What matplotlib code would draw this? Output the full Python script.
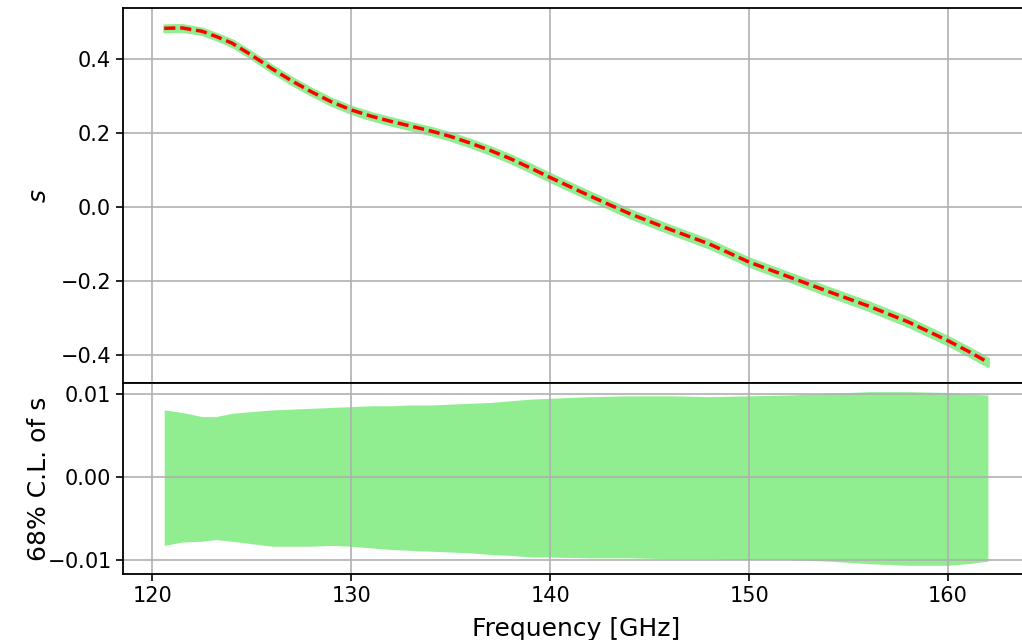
import numpy as np
import matplotlib
matplotlib.use("Agg")
import matplotlib.pyplot as plt

# frequency grid [GHz]
freq = [120.6, 121.5, 122.5, 123.2, 124, 125, 126, 127, 128, 129, 130, 131, 132,
        133, 134, 135, 136, 137, 138, 139, 140, 142, 144, 146, 148, 150, 152,
        154, 156, 158, 160, 161, 162]

# best fit spectral index s
s_best = [0.484, 0.485, 0.476, 0.462, 0.444, 0.411, 0.375, 0.342, 0.312, 0.285,
          0.263, 0.246, 0.232, 0.219, 0.206, 0.191, 0.173, 0.153, 0.131, 0.106,
          0.080, 0.030, -0.018, -0.060, -0.100, -0.149, -0.189, -0.229, -0.268,
          -0.311, -0.362, -0.390, -0.420]

# 68% C.L. upper / lower offsets
cl_hi = [0.0081, 0.0078, 0.0073, 0.0073, 0.0077, 0.0079, 0.0081, 0.0082, 0.0083,
         0.0084, 0.0085, 0.0086, 0.0086, 0.0087, 0.0087, 0.0088, 0.0089, 0.0090,
         0.0092, 0.0094, 0.0095, 0.0097, 0.0098, 0.0098, 0.0097, 0.0098, 0.0099,
         0.0101, 0.0103, 0.0103, 0.0102, 0.0100, 0.0099]
cl_lo = [-0.0082, -0.0078, -0.0077, -0.0075, -0.0077, -0.0080, -0.0083, -0.0083,
         -0.0083, -0.0082, -0.0083, -0.0085, -0.0087, -0.0088, -0.0089, -0.0090,
         -0.0091, -0.0093, -0.0094, -0.0096, -0.0096, -0.0097, -0.0097, -0.0098,
         -0.0098, -0.0099, -0.0099, -0.0101, -0.0104, -0.0106, -0.0106, -0.0104,
         -0.0101]

f = np.array(freq)
s = np.array(s_best)
hi = np.array(cl_hi)
lo = np.array(cl_lo)

fig = plt.figure(figsize=(10.22, 6.4), dpi=100)
ax1 = fig.add_axes([0.1204, 0.4016, 0.8865, 0.5859])
ax2 = fig.add_axes([0.1204, 0.1031, 0.8865, 0.2985], sharex=ax1)

# top: s with its band
ax1.fill_between(f, s + lo, s + hi, facecolor="lightgreen", edgecolor="lightgreen", lw=2.2)
ax1.plot(f, s, color="red", ls="--", lw=2.5, dashes=(3.2, 1.4))
ax1.set_ylabel("$s$", fontsize=18)
ax1.set_yticks([-0.4, -0.2, 0.0, 0.2, 0.4])
ax1.grid(True, color="#b0b0b0", lw=1.2)
ax1.tick_params(axis="x", which="both", bottom=False, labelbottom=False)
ax1.tick_params(axis="y", labelsize=15, width=1.2, length=5)

# bottom: the band itself
ax2.fill_between(f, lo, hi, color="lightgreen", lw=0)
ax2.set_ylabel("68% C.L. of s", fontsize=18)
ax2.set_xlabel("Frequency [GHz]", fontsize=18, labelpad=8)
ax2.set_yticks([-0.01, 0.0, 0.01])
ax2.set_yticklabels(["$-$0.01", "0.00", "0.01"])
ax2.grid(True, color="#b0b0b0", lw=1.2)
ax2.tick_params(labelsize=15, width=1.2, length=5)
ax2.set_xticks([120, 130, 140, 150, 160])

for ax in (ax1, ax2):
    for sp in ax.spines.values():
        sp.set_linewidth(1.3)

ax1.yaxis.set_label_coords(-0.08, 0.5)
ax2.yaxis.set_label_coords(-0.08, 0.5)
fig.savefig("out.png", dpi=100)
